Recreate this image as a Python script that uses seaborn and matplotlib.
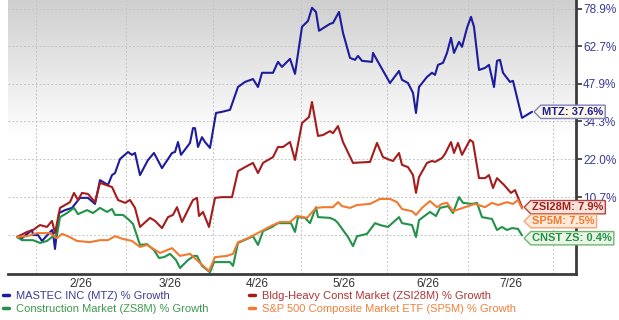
import numpy as np
import pandas as pd
import seaborn as sns
import matplotlib.pyplot as plt
from matplotlib.path import Path
from matplotlib.lines import Line2D
from matplotlib.colors import LinearSegmentedColormap

# % growth readings, (trading day, growth %)
mtz = [(0, 0), (1.25, -0.3), (3.75, 1.8), (4, 0.5), (5.25, 0.5), (6.25, -1.0), (8.75, 1.8), (9, 1.0),
       (9.5, -3.0), (10.5, 6.3), (12, 7.1), (13.75, 7.7), (15.75, 10.5), (17.75, 10.5), (19.5, 8.8),
       (20.75, 15.6), (22.75, 14.2), (23.75, 17.1), (24.5, 17.7), (25.75, 22.0), (27.75, 24.2),
       (28.75, 23.3), (29.5, 23.9), (30.75, 17.1), (32.75, 21.7), (34.25, 23.9), (36.25, 19.2),
       (38.75, 23.9), (39.5, 24.2), (40.25, 27.4), (41, 23.3), (43.25, 27.1), (44, 32.0), (44.5, 32.0),
       (45.25, 25.8), (46.25, 29.0), (47, 27.4), (48.25, 25.5), (49.75, 37.2), (51.25, 37.6),
       (53.25, 38.3), (55.25, 46.6), (57, 48.5), (59, 49.6), (60.25, 46.6), (61.25, 52.0), (64, 52.0),
       (65.25, 56.3), (66.25, 54.3), (68.25, 57.5), (69.5, 51.6), (71.25, 70.9), (72.75, 73.5),
       (73.75, 79.4), (74.75, 77.5), (75.5, 69.2), (78.25, 72.2), (79, 72.6), (80.5, 77.5), (81.5, 68.3),
       (83.25, 57.9), (84.5, 57.1), (85.25, 58.7), (86.25, 56.7), (88.75, 56.3), (89, 59.9),
       (90.25, 56.3), (93.25, 48.1), (95.5, 52.7), (96.25, 49.3), (97.75, 48.1), (99, 44.4),
       (99.75, 37.2), (100.5, 46.6), (102.5, 50.4), (103.75, 52.0), (104.5, 51.2), (105.25, 55.1),
       (106.5, 55.9), (107.5, 59.9), (108.5, 66.2), (109.25, 59.9), (110.5, 64.5), (111.25, 62.4),
       (112.5, 70.4), (113.5, 75.3), (114.25, 70.9), (115.5, 53.1), (117, 53.9), (118, 55.1),
       (119.25, 46.6), (120, 56.7), (120.75, 57.1), (121.5, 52.0), (123.25, 48.5), (124, 48.9),
       (126.25, 35.5), (128.75, 37.6)]

zsi28m = [(0, 0), (2.5, 1.3), (4, 1.8), (5.75, 3.1), (7.5, 2.6), (8.75, 4.2), (9.5, 1.0), (10.75, 7.7),
          (13.25, 9.3), (14.25, 11.9), (15.25, 9.9), (16.25, 11.9), (17.75, 11.6), (19.5, 9.3),
          (20.75, 14.8), (23.75, 13.6), (25.25, 9.9), (27, 9.1), (28.25, 9.9), (29.5, 7.7), (30.75, 2.6),
          (33.25, 5.0), (34.5, 4.2), (36.25, 2.3), (37.75, 5.2), (39, 5.8), (40, 7.9), (41.25, 3.9),
          (43, 7.7), (44, 9.9), (45, 10.5), (45.5, 5.5), (46.5, 6.6), (48, 2.6), (49.5, 10.5),
          (51.25, 10.7), (53.75, 10.7), (55.25, 18.3), (57, 19.5), (59, 20.8), (60.25, 17.7),
          (61.5, 20.8), (64, 22.6), (65.25, 25.8), (66.5, 25.8), (68.25, 27.4), (69.5, 21.7),
          (71.25, 33.7), (73, 35.8), (73.75, 41.1), (75.25, 29.4), (76.5, 29.7), (78.25, 31.0),
          (79, 30.3), (80.25, 32.7), (81.5, 27.4), (84, 20.8), (88.25, 21.1), (90, 27.1), (91.5, 22.6),
          (93.25, 21.7), (94, 21.4), (95.5, 23.9), (96.25, 20.2), (97.75, 19.5), (99, 17.1),
          (99.75, 11.9), (100.5, 16.5), (102.5, 20.8), (103.75, 21.4), (104.5, 21.1), (106.25, 22.3),
          (107, 23.6), (108.5, 27.4), (109.25, 23.9), (110.25, 27.1), (111.25, 23.3), (113.25, 28.1),
          (114, 27.4), (115.5, 16.2), (117, 16.2), (118, 17.1), (119, 13.3), (120, 16.2),
          (121.75, 14.2), (123.5, 11.9), (124.5, 12.7), (126.25, 7.9)]

zs8m = [(0, 0), (1.25, -0.8), (4, -0.8), (5.75, -1.5), (7.5, -1.0), (8.75, 0.0), (10, 0.5), (10.75, 5.2),
        (12.5, 6.3), (14.25, 7.7), (15.25, 6.0), (17.5, 7.1), (19, 6.3), (20.75, 7.7), (22.5, 6.6),
        (23.75, 7.4), (24.5, 5.8), (26.5, 5.8), (27.75, 4.7), (29, 3.4), (30.75, -2.0), (32.5, -1.8),
        (34.25, -3.3), (35.5, -5.2), (36.75, -5.0), (38.25, -4.2), (39.75, -5.7), (40.75, -7.6),
        (42.75, -5.7), (44.25, -4.7), (45, -4.7), (46.25, -7.1), (48.25, -8.6), (49.25, -6.2),
        (51.25, -6.2), (53.25, -6.2), (54, -7.1), (55.25, -1.5), (57.5, -0.5), (59, 0.2), (60.25, -2.0),
        (61.5, 1.5), (63.75, 2.6), (65.25, 3.6), (67.5, 3.6), (68.5, 3.6), (69.5, 1.3), (70.25, 5.2),
        (72, 5.0), (73.25, 3.6), (74.75, 7.9), (75.25, 5.2), (78.25, 5.0), (79.5, 4.4), (80.25, 3.6),
        (82.75, 0.0), (84, -2.3), (85, 0.2), (87.5, 0.8), (89.5, 3.6), (90.75, 3.1), (92.75, 2.6),
        (95.5, 5.2), (96.25, 3.6), (98.75, 3.1), (99.75, 0.0), (100.5, 4.4), (103.25, 6.6),
        (104.75, 5.5), (105.75, 7.7), (107.75, 8.2), (109, 6.3), (110.5, 10.7), (111.5, 9.1),
        (113.75, 8.8), (115, 9.1), (116.25, 5.2), (118.75, 4.7), (120, 1.8), (121.25, 2.6),
        (122.5, 1.8), (123.75, 2.3), (125.25, 2.1), (126.25, 0.4)]

sp5m = [(0, 0), (2.5, 0.2), (5, 1.0), (8.25, 1.0), (10, -0.3), (11.25, 0.8), (12.75, 0.2), (15, -1.0),
        (18.25, -1.3), (20.75, -0.8), (22.75, -0.8), (24.5, 0.2), (26.5, -0.5), (28.75, -1.0),
        (30.75, -2.5), (32.5, -2.0), (35.75, -4.0), (38.75, -2.8), (40.75, -4.7), (43.25, -4.2),
        (45.75, -6.4), (48, -8.3), (49.5, -5.0), (52.5, -4.7), (54, -4.2), (55.25, -1.3), (57.75, -0.3),
        (60.75, 1.3), (62.5, 2.3), (64, 3.1), (65.75, 3.9), (68.25, 3.9), (70, 5.5), (72.5, 5.0),
        (74.75, 7.7), (76.5, 7.9), (79, 7.9), (80.25, 9.3), (81.25, 8.2), (83.25, 7.7), (85, 8.5),
        (88.25, 8.8), (90.75, 10.2), (93.25, 10.2), (95, 9.3), (96.25, 7.4), (98.75, 6.8), (99.75, 5.8),
        (101.25, 7.7), (103.25, 9.6), (105, 7.9), (106.25, 8.8), (107.5, 9.1), (109, 6.8), (112, 7.9),
        (114.5, 8.8), (117, 7.9), (118.75, 9.1), (120.25, 8.5), (122.5, 9.3), (124, 8.8),
        (125.25, 9.9), (126.25, 7.5)]

month_edges = [4.75, 27.25, 49, 71, 92.5, 112.75, 134]
month_labels = ['2/26', '3/26', '4/26', '5/26', '6/26', '7/26']
y_ticks = [0.6, 10.7, 22.0, 34.3, 47.9, 62.7, 78.9]

names = ['MASTEC INC (MTZ) % Growth', 'Bldg-Heavy Const Market (ZSI28M) % Growth',
         'Construction Market (ZS8M) % Growth', 'S&P 500 Composite Market ETF (SP5M) % Growth']
tags = ['MTZ', 'ZSI28M', 'CNST ZS', 'SP5M']
colors = ['#1c1c9c', '#a51c1c', '#22924a', '#f27a2e']

sns.set_style('white')
plt.rcParams['font.family'] = ['Liberation Sans', 'DejaVu Sans']

frames = []
for name, pts in zip(names, [mtz, zsi28m, zs8m, sp5m]):
    d = pd.DataFrame(pts, columns=['day', 'growth'])
    d['series'] = name
    frames.append(d)
df = pd.concat(frames, ignore_index=True)

fig = plt.figure(figsize=(6.19, 3.2), dpi=100)
rect = [8 / 619, 46 / 320, 568 / 619, 274 / 320]

# grey-to-white background
bg = fig.add_axes(rect, zorder=0)
bg.imshow(np.linspace(0, 1, 256).reshape(-1, 1), aspect='auto',
          cmap=LinearSegmentedColormap.from_list('bg', ['#cfcfcf', '#ffffff', '#ffffff']))
bg.axis('off')

ax = fig.add_axes(rect, zorder=1)
ax.patch.set_alpha(0)

fwd = lambda v: np.log1p(np.asarray(v) / 100.0)
inv = lambda y: np.expm1(np.asarray(y)) * 100.0
ax.set_yscale('function', functions=(fwd, inv))

sns.lineplot(data=df, x='day', y='growth', hue='series', palette=dict(zip(names, colors)),
             estimator=None, sort=False, linewidth=1.5, legend=False, ax=ax)

ax.set_xlim(-2.25, 139.75)
ax.set_ylim(-9.0, 83.0)

# month gridlines, labels centred in each month
ax.set_xticks(month_edges)
ax.set_xticklabels([])
mids = [(a + b) / 2 for a, b in zip(month_edges[:-1], month_edges[1:])]
ax.set_xticks(mids, minor=True)
ax.set_xticklabels(month_labels, minor=True)
ax.tick_params(axis='x', which='both', length=0, pad=3, labelsize=8.5, labelcolor='#333333')

ax.yaxis.tick_right()
ax.set_yticks(y_ticks)
ax.set_yticklabels([''] + [f'{t:.1f}%' for t in y_ticks[1:]])
ax.tick_params(axis='y', direction='out', length=4, width=1.2, color='#333333',
               labelsize=8.5, labelcolor='#3a3a98', pad=1)
ax.set_xlabel('')
ax.set_ylabel('')

ax.grid(True, which='major', color='#c4c4c4', linestyle=(0, (2, 2)), linewidth=0.7)
for s in ['left', 'top']:
    ax.spines[s].set_visible(False)
for s in ['right', 'bottom']:
    ax.spines[s].set_linewidth(2)
    ax.spines[s].set_color('#3c3c3c')


def tag_box(x0, y0, width, height, mutation_size):
    pad = 0.15 * mutation_size
    x0, y0 = x0 - pad, y0 - pad
    x1, y1 = x0 + width + 2 * pad, y0 + height + 2 * pad
    tip = (y1 - y0) / 2
    return Path([(x0 - tip, (y0 + y1) / 2), (x0, y0), (x1, y0), (x1, y1), (x0, y1),
                 (x0 - tip, (y0 + y1) / 2)], closed=True)


fills = ['#fbf7e2', '#f6e4da', '#eaf5e3', '#fdeadb']
edges = ['#8080c0', '#b04444', '#6fb57a', '#f5a473']
shifts = [0, 0, -2, -9]
for pts, tag, c, fc, ec, dy in zip([mtz, zsi28m, zs8m, sp5m], tags, colors, fills, edges, shifts):
    x_end, v_end = pts[-1]
    ax.annotate(f'{tag}: {v_end:.1f}%', xy=(x_end, v_end), xytext=(7.5, dy),
                textcoords='offset points', ha='left', va='center', fontsize=8,
                fontweight='bold', color=c, zorder=5, annotation_clip=False,
                bbox=dict(boxstyle=tag_box, fc=fc, ec=ec, lw=1))

handles = [Line2D([], [], color=c, lw=2.5) for c in colors]
text_cols = ['#3a3a98', '#b03434', '#3c9a4c', '#f0803c']
for idx, x in [([0, 2], 3 / 619), ([1, 3], 249 / 619)]:
    leg = fig.legend([handles[i] for i in idx], [names[i] for i in idx], loc='upper left',
                     bbox_to_anchor=(x, 1 - 291 / 320), frameon=False, fontsize=8,
                     handlelength=0.5, handletextpad=0.7, labelspacing=0.3,
                     borderpad=0, borderaxespad=0)
    for t, i in zip(leg.get_texts(), idx):
        t.set_color(text_cols[i])

fig.savefig('out.png', dpi=100)
